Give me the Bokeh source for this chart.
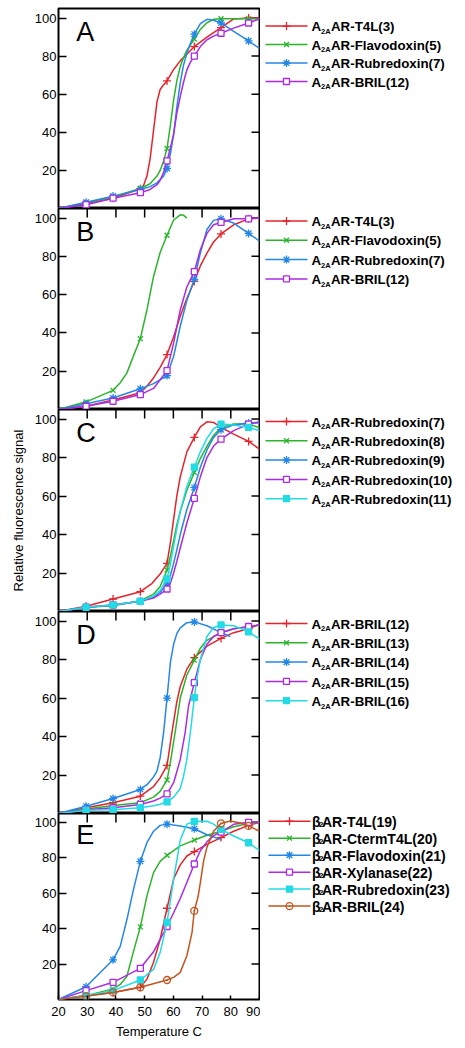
import numpy as np
from bokeh.plotting import figure
from bokeh.models import Range1d, FixedTicker, Label
from bokeh.layouts import column, row
from bokeh.core.properties import value
from bokeh.embed import file_html
from bokeh.resources import INLINE

FONT = "Liberation Sans"

# ---------------- data ----------------
MARK_T = [29.6, 39.0, 48.5, 57.8, 67.3, 76.6, 86.2]
Y_TICKS = [20, 40, 60, 80, 100]
X_TICKS = [20, 30, 40, 50, 60, 70, 80, 90]
TOP_TICKS = [30, 40, 50, 60, 70, 80]

# Panel A
A_labels = [("A", "2A", "AR-T4L(3)"), ("A", "2A", "AR-Flavodoxin(5)"),
            ("A", "2A", "AR-Rubredoxin(7)"), ("A", "2A", "AR-BRIL(12)")]
A_marks = [[2.5, 5.4, 10.4, 67, 85, 95, 100],
           [3, 6, 10.5, 31.5, 89, 99.6, 99.6],
           [3.3, 6.5, 10, 21, 91.5, 97.4, 88],
           [2, 5.4, 8.3, 25, 80, 92, 97.4]]
A_lines = [
    [(20, 0), (29.6, 2.5), (39, 5.4), (48.5, 10.4), (49.6, 12), (50.8, 17), (51.9, 26), (53.1, 41), (54.3, 56),
     (55.4, 62.5), (56.6, 65), (57.8, 67), (60.1, 73), (62.4, 77.5), (64.7, 81), (67.3, 85), (71.7, 90),
     (76.6, 95), (81, 99.5), (86.2, 100), (90, 100)],
    [(20, 0), (29.6, 3), (39, 6), (48.5, 10.5), (51.9, 13), (54.3, 17), (55.4, 20), (56.6, 25), (57.8, 31.5),
     (59, 44), (60.1, 57), (61.2, 67), (62.4, 74.5), (63.5, 79), (64.7, 83), (67.3, 89), (69.4, 94),
     (71.7, 97.5), (74, 99.3), (76.6, 99.6), (86.2, 99.6), (90, 99.6)],
    [(20, 0), (29.6, 3.3), (39, 6.5), (48.5, 10), (51.9, 11.5), (54.3, 13.5), (56.6, 17), (57.8, 21), (59, 29),
     (60.1, 39), (61.2, 53), (62.4, 66), (63.5, 75), (64.7, 81.5), (66, 87), (67.3, 91.5), (69.4, 97),
     (71.7, 99.3), (74, 98.8), (76.6, 97.4), (81, 93), (86.2, 88), (90, 84)],
    [(20, 0), (29.6, 2), (39, 5.4), (48.5, 8.3), (51.9, 10), (54.3, 12.5), (55.4, 14.8), (56.6, 19), (57.8, 25),
     (59, 32), (60.1, 39), (61.2, 50), (62.4, 58.7), (63.5, 66), (64.7, 72.8), (66, 77), (67.3, 80), (69.4, 85),
     (71.7, 88.6), (74, 90.5), (76.6, 92), (81, 94.7), (86.2, 97.4), (90, 99.6)],
]

# Panel B
B_labels = A_labels
B_marks = [[1.7, 5, 8.7, 28.7, 67, 91.7, 99.6],
           [4, 10, 37, 91, None, None, None],
           [3, 6, 10.8, 17.7, 68, 99.6, 92],
           [1.7, 4.3, 7.8, 20.3, 72, 97.7, 99.6]]
B_lines = [
    [(20, 0), (29.6, 1.7), (39, 5), (48.5, 8.7), (51, 12.5), (53.1, 16.5), (55.4, 22), (57.8, 28.7), (60.1, 38),
     (62.4, 48.7), (64.7, 58), (67.3, 67), (69.4, 75), (71.7, 81.7), (74, 87.5), (76.6, 91.7), (81, 96.5),
     (86.2, 99.6), (90, 100)],
    [(20, 0), (29.6, 4), (39, 10), (41.5, 14), (43.8, 19), (46.1, 28), (48.5, 37), (50.8, 52), (53.1, 69.5),
     (55.4, 82), (57.8, 91), (60.1, 99), (62.4, 101.7), (63.5, 101.5), (64.7, 100)],
    [(20, 0), (29.6, 3), (39, 6), (48.5, 10.8), (53.1, 13.5), (57.8, 17.7), (60.1, 27.8), (62.4, 43.5),
     (64.7, 57), (67.3, 68), (69.4, 81.7), (71.7, 94), (74, 98.8), (76.6, 99.6), (81, 97.4), (86.2, 92), (90, 88)],
    [(20, 0), (29.6, 1.7), (39, 4.3), (48.5, 7.8), (53.1, 11), (57.8, 20.3), (60.1, 34.8), (62.4, 52),
     (64.7, 64), (67.3, 72), (69.4, 83.5), (71.7, 92), (74, 96.5), (76.6, 97.7), (81, 99.6), (86.2, 99.6),
     (90, 100)],
]

# Panel C
C_labels = [("A", "2A", "AR-Rubredoxin(7)"), ("A", "2A", "AR-Rubredoxin(8)"),
            ("A", "2A", "AR-Rubredoxin(9)"), ("A", "2A", "AR-Rubredoxin(10)"),
            ("A", "2A", "AR-Rubredoxin(11)")]
C_marks = [[2.7, 6.5, 10.3, 25, 90.5, 95.7, 88.4],
           [2.2, 3, 5.6, 21.6, 72.3, 95.7, 97.5],
           [2.2, 3.4, 5.3, 14.3, 64.5, 94.5, 98],
           [2.2, 3.4, 5.3, 11.7, 58.8, 89.6, 97.4],
           [2.2, 3.4, 5.3, 17, 75, 97.4, 95.7]]
C_lines = [
    [(20, 0), (29.6, 2.7), (39, 6.5), (48.5, 10.3), (52.5, 14.5), (55.4, 19.5), (57.8, 25), (59, 36), (60.1, 48),
     (61.2, 60), (62.4, 70), (64.7, 83), (67.3, 90.5), (69.4, 96), (71.7, 98.6), (74, 98.3), (76.6, 95.7),
     (81, 92.2), (86.2, 88.4), (90, 84.4)],
    [(20, 0), (29.6, 2.2), (39, 3), (48.5, 5.6), (53.1, 9), (55.4, 13), (57.8, 21.6), (59, 29), (60.1, 37),
     (61.2, 45), (62.4, 52), (64.7, 63), (67.3, 72.3), (69.4, 79.5), (71.7, 86), (74, 91.5), (76.6, 95.7),
     (81, 97.5), (86.2, 97.5), (90, 95.5)],
    [(20, 0), (29.6, 2.2), (39, 3.4), (48.5, 5.3), (53.1, 7.5), (55.4, 10), (57.8, 14.3), (59, 19), (60.1, 25),
     (61.2, 32), (62.4, 40), (64.7, 53), (67.3, 64.5), (69.4, 75), (71.7, 84), (74, 90.5), (76.6, 94.5),
     (81, 97), (86.2, 98), (90, 98)],
    [(20, 0), (29.6, 2.2), (39, 3.4), (48.5, 5.3), (53.1, 7), (55.4, 9), (57.8, 11.7), (59, 15), (60.1, 20),
     (61.2, 26), (62.4, 33), (64.7, 46), (67.3, 58.8), (69.4, 70), (71.7, 80), (74, 86), (76.6, 89.6),
     (81, 94), (86.2, 97.4), (90, 98.6)],
    [(20, 0), (29.6, 2.2), (39, 3.4), (48.5, 5.3), (53.1, 8), (55.4, 11), (57.8, 17), (59, 25), (60.1, 34),
     (61.2, 43), (62.4, 52), (64.7, 65), (67.3, 75), (69.4, 83), (71.7, 90), (74, 95), (76.6, 97.4),
     (81, 97), (86.2, 95.7), (90, 94)],
]

# Panel D
D_labels = [("A", "2A", "AR-BRIL(12)"), ("A", "2A", "AR-BRIL(13)"), ("A", "2A", "AR-BRIL(14)"),
            ("A", "2A", "AR-BRIL(15)"), ("A", "2A", "AR-BRIL(16)")]
D_marks = [[3, 5.6, 9, 25, 81, 91, 96],
           [2.4, 4.2, 5.6, 17.4, 79.7, 94, 97],
           [3.8, 7.8, 12.5, 60, 99.6, None, None],
           [2, 3, 4.7, 10.2, 68, 94, 97.2],
           [1.7, 2, 3, 6, 60.2, 98, 94.4]]
D_lines = [
    [(20, 0), (29.6, 3), (39, 5.6), (48.5, 9), (53.1, 14), (55.4, 18.5), (57.8, 25), (59.5, 42), (61.2, 58),
     (62.4, 66), (64.7, 75), (67.3, 81), (71.7, 87), (76.6, 91), (81, 94), (86.2, 96), (90, 98.4)],
    [(20, 0), (29.6, 2.4), (39, 4.2), (48.5, 5.6), (53.1, 8.5), (55.4, 11.5), (57.8, 17.4), (59, 27),
     (60.6, 42), (62.4, 60), (64.7, 72), (67.3, 79.7), (69.4, 86), (71.7, 90), (76.6, 94), (81, 96),
     (86.2, 97), (90, 98)],
    [(20, 0), (29.6, 3.8), (39, 7.8), (48.5, 12.5), (50.8, 15), (53.1, 19), (54.3, 22), (55.4, 29),
     (56.6, 42), (57.8, 60), (59, 79), (60.1, 88), (61.2, 93.5), (62.4, 96.5), (64.7, 99.2), (67.3, 99.6),
     (71.7, 97.6), (76.6, 94), (79.8, 92)],
    [(20, 0), (29.6, 2), (39, 3), (48.5, 4.7), (53.1, 6.5), (55.4, 8), (57.8, 10.2), (60.1, 16), (62.4, 28),
     (64.1, 42), (65.3, 56), (67.3, 68), (69.4, 80), (71.7, 88), (74, 92), (76.6, 94), (81, 96), (86.2, 97.2),
     (90, 98)],
    [(20, 0), (29.6, 1.7), (39, 2), (48.5, 3), (53.1, 4), (55.4, 4.8), (57.8, 6), (60.1, 8.5), (62.4, 13),
     (63.5, 19), (64.7, 28), (66, 43), (67.3, 60.2), (68.3, 71), (69.4, 80), (71.7, 92), (74, 96.7),
     (76.6, 98), (81, 97.6), (86.2, 94.4), (90, 90.6)],
]

# Panel E
E_labels = [("β", "2", "AR-T4L(19)"), ("β", "2", "AR-CtermT4L(20)"), ("β", "2", "AR-Flavodoxin(21)"),
            ("β", "2", "AR-Xylanase(22)"), ("β", "2", "AR-Rubredoxin(23)"), ("β", "2", "AR-BRIL(24)")]
E_marks = [[2.2, 4, 6.9, 51.5, 83.5, 91.4, 98.3],
           [2.2, 6, 41, 81.4, 90, 95, 99.4],
           [7.2, 22.4, 78, 99, 96.4, None, None],
           [5, 9.7, 17.6, 41.2, 76.5, 94.5, 100],
           [2.2, 5, 11, 43.5, 100.5, 96, 88.5],
           [1.8, 4, 6.9, 11, 50, 99.4, 98]]
E_lines = [
    [(20, 0), (29.6, 2.2), (39, 4), (48.5, 6.9), (50.8, 11.5), (53.1, 21), (55.4, 34), (57.8, 51.5),
     (60.1, 68), (62.4, 76), (64.7, 81), (67.3, 83.5), (71.7, 87.6), (76.6, 91.4), (81, 95), (86.2, 98.3),
     (90, 100)],
    [(20, 0), (29.6, 2.2), (39, 6), (41.5, 8.5), (43.8, 13), (46.1, 27), (48.5, 41), (50.8, 58.5),
     (53.1, 71.6), (55.4, 78), (57.8, 81.4), (62.4, 86.7), (67.3, 90), (71.7, 92.7), (76.6, 95), (81, 97.5),
     (86.2, 99.4), (90, 100)],
    [(20, 0), (29.6, 7.2), (39, 22.4), (41.5, 30), (43.8, 45), (46.1, 62), (48.5, 78), (50.8, 88.5),
     (53.1, 95), (55.4, 98.3), (57.8, 99), (62.4, 98), (67.3, 96.4), (71.7, 93), (76.6, 90.4)],
    [(20, 0), (29.6, 5), (39, 9.7), (48.5, 17.6), (53.1, 27), (57.8, 41.2), (60.1, 49), (62.4, 57),
     (64.7, 66), (67.3, 76.5), (69.4, 84), (71.7, 89), (74, 92.5), (76.6, 94.5), (81, 98.9), (86.2, 100),
     (90, 100)],
    [(20, 0), (29.6, 2.2), (39, 5), (48.5, 11), (53.1, 17), (55.4, 26.6), (57.8, 43.5), (60.1, 68),
     (62.4, 90), (64.7, 99), (67.3, 100.5), (71.7, 100.6), (74, 99), (76.6, 96), (81, 92.3), (86.2, 88.5),
     (90, 84)],
    [(20, 0), (29.6, 1.8), (39, 4), (48.5, 6.9), (57.8, 11), (60.1, 12.5), (62.4, 15.3), (64.7, 24.7),
     (66.5, 37.8), (67.3, 50), (68.6, 58), (69.4, 66), (70.5, 78), (71.7, 86), (74, 95), (76.6, 99.4),
     (79.8, 100.8), (83.3, 99.6), (86.2, 98), (90, 95)],
]

# ---------------- styles ----------------
RED, GREEN, BLUE, PURPLE, CYAN, BROWN = "#e6232b", "#2bb52b", "#2387e8", "#a92be6", "#22dbe4", "#c4541e"
ST = {
    "red": (RED, "cross", 8, RED),
    "green": (GREEN, "x", 7, GREEN),
    "blue": (BLUE, "asterisk", 8, BLUE),
    "purple": (PURPLE, "square", 6, "white"),
    "cyan": (CYAN, "square", 6, CYAN),
    "brown": (BROWN, "circle_dot", 7, None),
}
A_style = ["red", "green", "blue", "purple"]
C_style = ["red", "green", "blue", "purple", "cyan"]
E_style = ["red", "green", "blue", "purple", "cyan", "brown"]

PAGE_PAD = 8          # the page template has no body margin, so leave it here
LEFT_BORDER = 50 + PAGE_PAD
LEG_W = 195


def make_panel(letter, lines, marks, styles, frame_h, top_ticks=True, bottom_axis=False, ylabel=None,
               top_border=0):
    p = figure(frame_width=201, frame_height=frame_h,
               x_range=Range1d(20, 90), y_range=Range1d(0, 105),
               x_axis_location=("below" if bottom_axis else None),
               output_backend="svg", toolbar_location=None,
               min_border_left=LEFT_BORDER, min_border_right=1, min_border_top=top_border,
               min_border_bottom=(44 if bottom_axis else 0))
    p.grid.visible = False
    p.outline_line_color = "black"
    p.outline_line_width = 2
    p.background_fill_color = "white"
    p.border_fill_color = "white"

    ya = p.yaxis[0]
    ya.ticker = FixedTicker(ticks=Y_TICKS)
    ya.major_tick_in = 8
    ya.major_tick_out = 0
    ya.minor_tick_line_color = None
    ya.axis_line_color = None
    ya.major_tick_line_width = 1.5
    ya.major_tick_line_color = "black"
    ya.major_label_standoff = 2
    ya.major_label_text_font = FONT
    ya.major_label_text_font_size = "13px"
    ya.major_label_text_color = "black"
    if ylabel:
        ya.axis_label = ylabel
        ya.axis_label_text_font = FONT
        ya.axis_label_text_font_size = "13px"
        ya.axis_label_text_font_style = "normal"
        ya.axis_label_text_color = "black"
        ya.axis_label_standoff = 6

    if bottom_axis:
        xa = p.xaxis[0]
        xa.ticker = FixedTicker(ticks=X_TICKS)
        xa.major_tick_in = 4
        xa.major_tick_out = 0
        xa.minor_tick_line_color = None
        xa.axis_line_color = None
        xa.major_tick_line_width = 1.5
        xa.major_tick_line_color = "black"
        xa.major_label_standoff = 7
        xa.major_label_text_font = FONT
        xa.major_label_text_font_size = "13px"
        xa.major_label_text_color = "black"
        xa.axis_label = "Temperature C"
        xa.axis_label_text_font = FONT
        xa.axis_label_text_font_size = "13px"
        xa.axis_label_text_font_style = "normal"
        xa.axis_label_text_color = "black"
        xa.axis_label_standoff = 5

    # inner ticks on right and top edges
    p.ray(x=[90] * len(Y_TICKS), y=Y_TICKS, length=8, angle=np.pi, length_units="screen",
          line_color="black", line_width=1.5)
    if top_ticks:
        p.ray(x=TOP_TICKS, y=[105] * len(TOP_TICKS), length=9, angle=-np.pi / 2, length_units="screen",
              line_color="black", line_width=1.5)

    for pts, ys, s in zip(lines, marks, styles):
        color, mk, size, fill = ST[s]
        t = [a for a, b in pts]
        v = [b for a, b in pts]
        p.line(t, v, line_color=color, line_width=1.5)
        mt = [tt for tt, yy in zip(MARK_T, ys) if yy is not None]
        my = [yy for yy in ys if yy is not None]
        p.scatter(mt, my, marker=mk, size=size, line_color=color, fill_color=fill, line_width=1.3)

    p.add_layout(Label(x=26.2, y=92.8, text=letter, text_font=FONT, text_font_size="27px",
                       text_baseline="middle", text_color="black"))
    return p


def make_legend(labels, styles, height, y0, dy, greek=False):
    lg = figure(width=LEG_W, height=height, x_range=Range1d(0, LEG_W), y_range=Range1d(height, 0),
                x_axis_type=None, y_axis_type=None, output_backend="svg", toolbar_location=None,
                min_border=0)
    lg.grid.visible = False
    lg.outline_line_color = None
    if greek:
        lx0, lx1, mx, tx, sx, rx, fs, sfs, sub_dy, main_dy = 8, 50, 29, 51.5, 58.5, 61.5, "14px", "8px", 4.5, 0.5
    else:
        lx0, lx1, mx, tx, sx, rx, fs, sfs, sub_dy, main_dy = 5, 47, 26, 51, 60.6, 70.5, "13.3px", "7.5px", 5.4, 0.6
    ys = [y0 + i * dy for i in range(len(labels))]
    for y, s in zip(ys, styles):
        color, mk, size, fill = ST[s]
        lg.line([lx0, lx1], [y, y], line_color=color, line_width=1.5)
        lg.scatter([mx], [y], marker=mk, size=size, line_color=color, fill_color=fill, line_width=1.3)
    pre = [l[0] for l in labels]
    sub = [l[1] for l in labels]
    rest = [l[2] for l in labels]
    lg.text(x=[tx] * len(ys), y=[y + main_dy for y in ys], text=pre, text_font=value(FONT),
            text_font_style="bold", text_font_size=fs, text_baseline="middle", text_color="black")
    lg.text(x=[sx] * len(ys), y=[y + sub_dy for y in ys], text=sub, text_font=value(FONT),
            text_font_style="bold", text_font_size=sfs, text_baseline="middle", text_color="black")
    lg.text(x=[rx] * len(ys), y=[y + main_dy for y in ys], text=rest, text_font=value(FONT),
            text_font_style="bold", text_font_size=fs, text_baseline="middle", text_color="black")
    return lg


pA = make_panel("A", A_lines, A_marks, A_style, 200, top_ticks=False, top_border=PAGE_PAD)
pB = make_panel("B", B_lines, B_marks, A_style, 201)
pC = make_panel("C", C_lines, C_marks, C_style, 202, ylabel="Relative fluorescence signal")
pD = make_panel("D", D_lines, D_marks, C_style, 202)
pE = make_panel("E", E_lines, E_marks, E_style, 186, bottom_axis=True)

lA = make_legend(A_labels, A_style, 200 + PAGE_PAD, 10.3 + PAGE_PAD, 19.2)
lB = make_legend(B_labels, A_style, 201, 12.5, 19.3)
lC = make_legend(C_labels, C_style, 202, 12.0, 19.3)
lD = make_legend(D_labels, C_style, 202, 12.0, 19.3)
lE = make_legend(E_labels, E_style, 230, 9.5, 21.0, greek=True)

layout = column(row(pA, lA), row(pB, lB), row(pC, lC), row(pD, lD), row(pE, lE))

open("out.html", "w").write(file_html(layout, INLINE))
